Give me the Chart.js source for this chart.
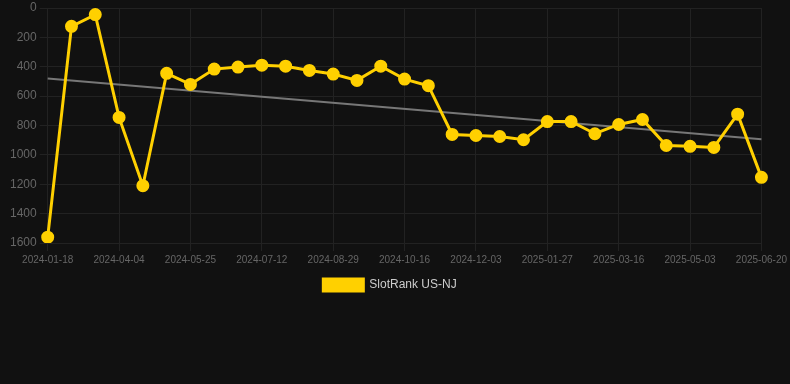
<!DOCTYPE html>
<html>
<head>
<meta charset="utf-8">
<script src="https://cdn.jsdelivr.net/npm/chart.js@4/dist/chart.umd.min.js"></script>
<style>
html,body{margin:0;padding:0;background:#111111;}
#wrap{width:790px;height:384px;position:relative;}
</style>
</head>
<body>
<div id="wrap"><canvas id="c"></canvas></div>
<script>
const categories = ["2024-01-18","2024-02-13","2024-03-09","2024-04-04","2024-04-21","2024-05-08","2024-05-25","2024-06-10","2024-06-26","2024-07-12","2024-07-28","2024-08-13","2024-08-29","2024-09-14","2024-09-30","2024-10-16","2024-11-01","2024-11-17","2024-12-03","2024-12-21","2025-01-08","2025-01-27","2025-02-12","2025-02-28","2025-03-16","2025-04-01","2025-04-17","2025-05-03","2025-05-19","2025-06-04","2025-06-20"];
const rankValues = [1560,125,45,745,1210,445,520,416,402,389,396,425,450,493,396,484,529,861,868,875,897,773,773,856,793,759,936,942,949,723,1153];
const trendStart = 480;
const trendEnd = 893;
const trendValues = categories.map((c,i)=> i===0 ? trendStart : (i===categories.length-1 ? trendEnd : null));
const yTicks = [0,200,400,600,800,1000,1200,1400,1600];

Chart.defaults.font.family = "Arial, 'Liberation Sans', Helvetica, sans-serif";
new Chart(document.getElementById('c'), {
  type: 'line',
  data: {
    labels: categories,
    datasets: [
      {
        label: 'SlotRank US-NJ',
        data: rankValues,
        borderColor: '#FFD000',
        backgroundColor: '#FFD000',
        borderWidth: 3,
        pointRadius: 5,
        pointHoverRadius: 5,
        pointBackgroundColor: '#FFD000',
        pointBorderColor: '#FFD000',
        tension: 0,
        order: 1
      },
      {
        label: 'trend',
        data: trendValues,
        borderColor: '#777777',
        borderWidth: 2,
        pointRadius: 0,
        spanGaps: true,
        order: 2
      }
    ]
  },
  options: {
    responsive: true,
    maintainAspectRatio: false,
    animation: false,
    layout: { padding: { top: 0, bottom: 83, left: 7, right: 17 } },
    plugins: {
      legend: {
        position: 'bottom',
        labels: {
          color: '#cccccc',
          font: { size: 12 },
          boxWidth: 40,
          boxHeight: 12,
          filter: (item) => item.text !== 'trend'
        }
      },
      tooltip: { enabled: false }
    },
    scales: {
      x: {
        grid: { color: '#222222', drawTicks: true },
        border: { color: '#222222' },
        ticks: { color: '#666666', font: { size: 10 }, maxRotation: 0, autoSkip: true, maxTicksLimit: 11 }
      },
      y: {
        reverse: true,
        min: 0,
        max: 1600,
        grid: { color: '#222222' },
        border: { color: '#222222' },
        afterBuildTicks: (axis) => { axis.ticks = yTicks.map(v => ({ value: v })); },
        ticks: { color: '#666666', font: { size: 12, lineHeight: 0.7 }, callback: (v) => String(v) }
      }
    }
  }
});
</script>
</body>
</html>
